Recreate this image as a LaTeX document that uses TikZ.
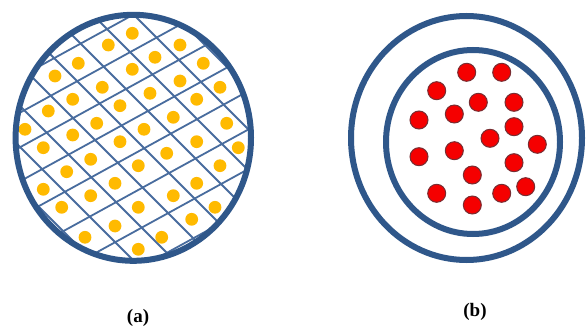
\documentclass[tikz,border=0pt]{standalone}
\usepackage{fontspec}
\setmainfont{Liberation Serif}
\definecolor{ringblue}{RGB}{47,87,138}
\definecolor{gridblue}{RGB}{72,108,158}
\definecolor{dotyellow}{RGB}{255,186,0}
\definecolor{dotred}{RGB}{245,0,0}
\definecolor{dotrim}{RGB}{120,45,50}
\tikzset{
  ring/.style={draw=ringblue, line width=6pt},
  gridline/.style={draw=gridblue, line width=1.8pt},
  ydot/.style={fill=dotyellow},
  rdot/.style={fill=dotred, draw=dotrim, line width=1pt},
  caption/.style={font=\fontsize{19}{21}\selectfont\bfseries, inner sep=0pt}
}
\begin{document}
\begin{tikzpicture}[x=1pt,y=-1pt]
\useasboundingbox (0,0) rectangle (586,326);
\fill[white] (0,0) rectangle (586,326);
% ---------- (a) ----------
\begin{scope}
  \clip (133.3,137.8) ellipse [x radius=117.7, y radius=123];
  \foreach \c in {-168,-127,-86,-45,-4,37,78,119,160}
    \draw[gridline] (\c,0) -- ({\c+280},280);
  \foreach \c in {160,225,288,350,414,484,556,627}
    \draw[gridline] (0,{\c/1.82}) -- (270,{(\c-270)/1.82});
\end{scope}
\foreach \p in {(132.3,33.3),(108.3,45),(180,45),(155,57.3),(78.3,63.3),(203.3,63.3),
  (55,76),(132.3,69.3),(180,81),(102.3,87.3),(220,87.3),(72.7,99.3),(150,93.3),
  (196.7,99.3),(48.3,111),(120,105.7),(173.3,117.3),(226.7,123.3),(25,129.3),
  (96.7,123.3),(144,129.3),(72.7,135),(196.7,141.7),(120,141.7),(43.3,147.7),
  (238.3,147.7),(166.7,153.3),(90.7,159.3),(138.3,165.7),(220,165.7),(66.7,171.7),
  (115,183.3),(196.7,183.3),(43.3,189.3),(173.3,195.7),(90.7,195.7),(138.3,207.3),
  (215,207.3),(61.7,207.3),(115,226),(191.7,219.3),(85,237.3),(161.7,237.3),(138.3,249.3)}
  \fill[ydot] \p circle[radius=6.4];
\draw[ring] (133.3,137.8) ellipse [x radius=117.7, y radius=123];
\node[caption] (capa) at (138,318) {(a)};
% ---------- (b) ----------
\draw[ring] (466.5,138) ellipse [x radius=115.5, y radius=122];
\draw[ring] (473,142) ellipse [x radius=87, y radius=92];
\foreach \p in {(466.7,72.3),(501.7,72.3),(436.7,90.7),(478.3,102.3),(514,102.3),
  (454.3,114),(419,120),(514,126.7),(490,138.3),(537.3,144.3),(419,156.7),
  (454.3,150.7),(514,162.7),(472.3,175),(436.7,193.3),(501.7,193.3),(525.7,186.7),
  (472.3,205)}
  \draw[rdot] \p circle[radius=9];
\node[caption] (capb) at (475,312) {(b)};
\end{tikzpicture}
\end{document}
